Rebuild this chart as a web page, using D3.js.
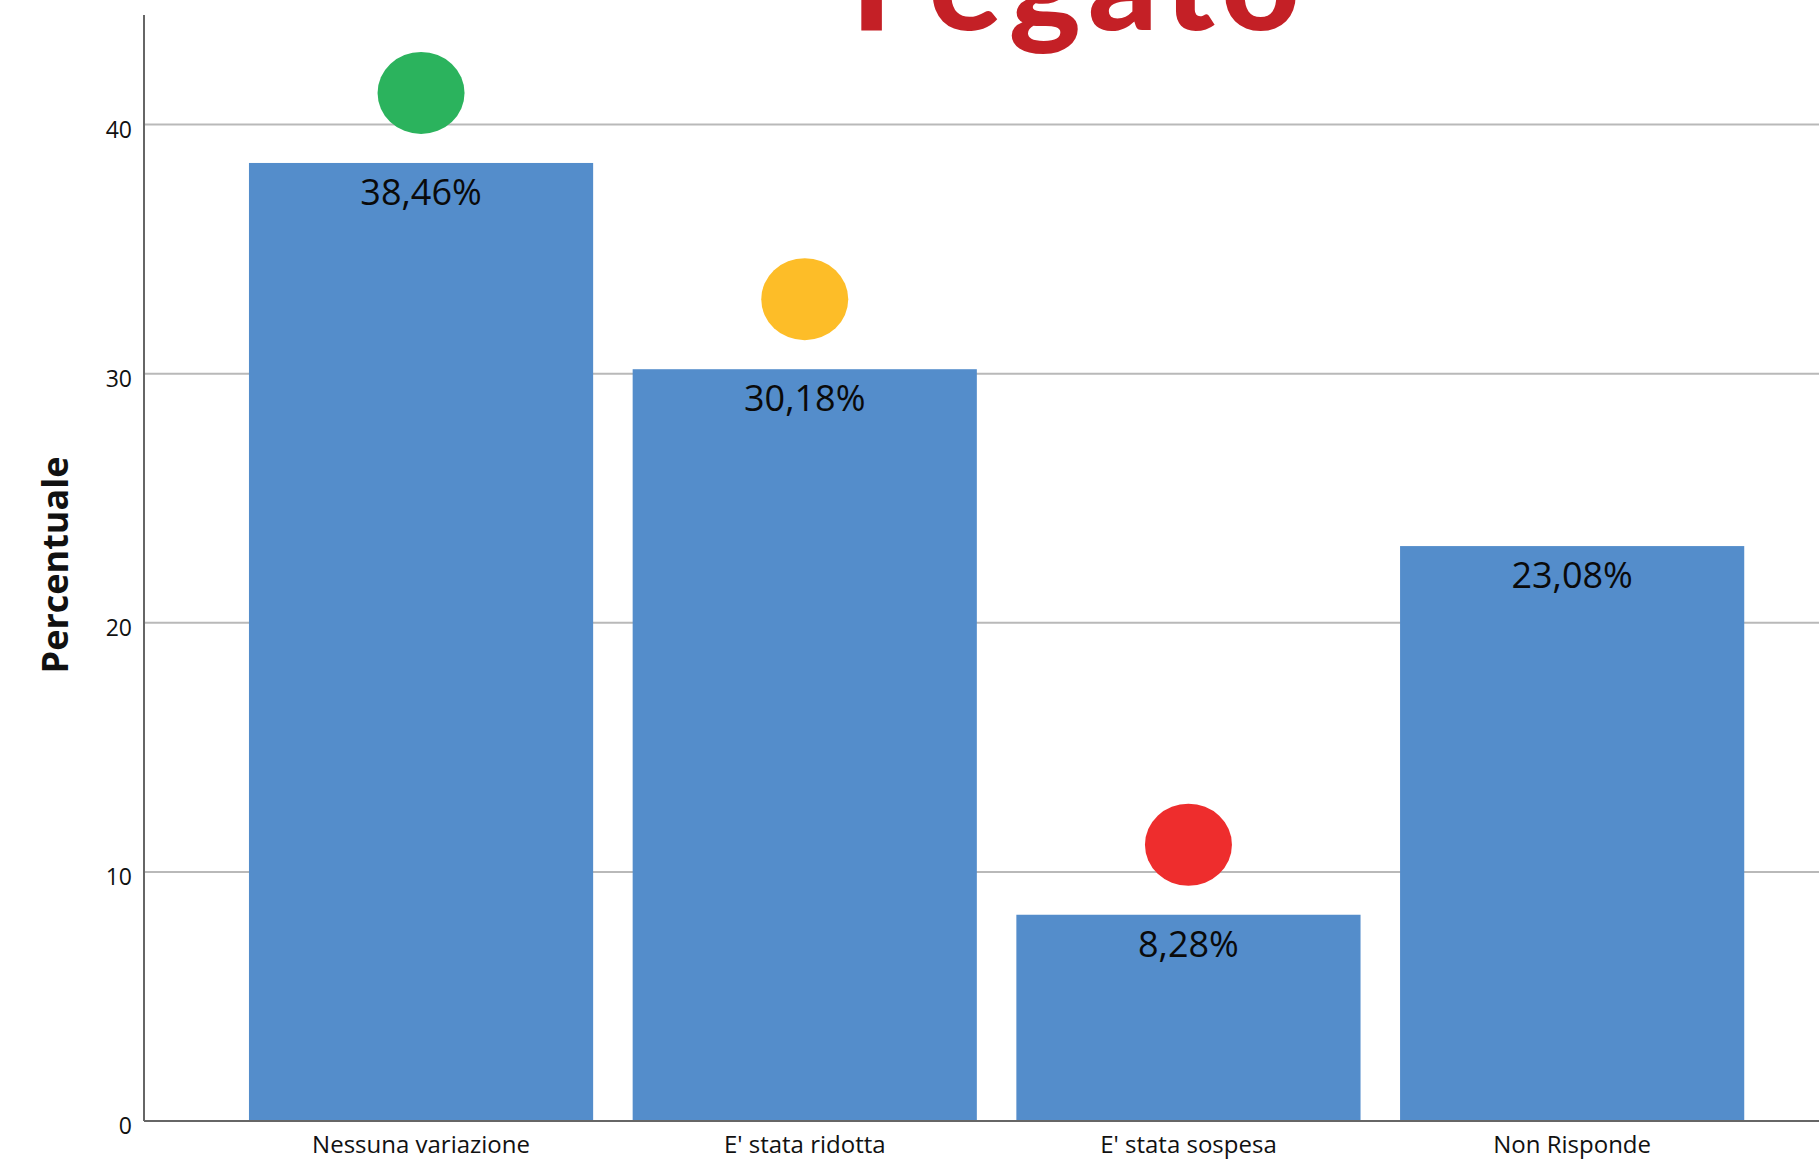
<!DOCTYPE html>
<html>
<head>
<meta charset="utf-8">
<script src="https://cdn.jsdelivr.net/npm/d3@7"></script>
<style>
  html, body { margin: 0; padding: 0; background: #fff; }
  svg { display: block; }
</style>
</head>
<body>
<div id="chart"></div>
<script>
// Risposte alla domanda sul fegato (percentuali)
const categories = ["Nessuna variazione", "E' stata ridotta", "E' stata sospesa", "Non Risponde"];
const values = [38.46, 30.18, 8.28, 23.08];
const valueLabels = ["38,46%", "30,18%", "8,28%", "23,08%"];
const yTicks = [0, 10, 20, 30, 40];
// Semaforo sopra le prime tre barre
const dotCategories = ["Nessuna variazione", "E' stata ridotta", "E' stata sospesa"];
const dotColors = ["#2bb35d", "#fdbd28", "#ee2d2d"];
const title = "Fegato";
const yTitle = "Percentuale";

const W = 1819, H = 1165;
const axisX = 144, baseY = 1121, topY = 15;

const svg = d3.select("#chart").append("svg")
  .attr("width", W).attr("height", H);

const y = d3.scaleLinear().domain([0, 44.4]).range([baseY, topY]);

const x = d3.scaleBand()
  .domain(categories)
  .range([229.2, 1764])
  .paddingInner(0.103)
  .paddingOuter(0.0515);

// Griglia orizzontale
svg.append("g")
  .selectAll("line")
  .data(yTicks.filter(d => d > 0))
  .join("line")
  .attr("x1", axisX).attr("x2", W)
  .attr("y1", d => y(d)).attr("y2", d => y(d))
  .attr("stroke", "#b9b9b9")
  .attr("stroke-width", 2);

// Barre
svg.append("g")
  .selectAll("rect")
  .data(values)
  .join("rect")
  .attr("x", (d, i) => x(categories[i]))
  .attr("y", d => y(d))
  .attr("width", x.bandwidth())
  .attr("height", d => y(0) - y(d))
  .attr("fill", "#548dcb");

// Etichette dei valori dentro le barre
svg.append("g")
  .selectAll("text")
  .data(values)
  .join("text")
  .attr("x", (d, i) => x(categories[i]) + x.bandwidth() / 2)
  .attr("y", d => y(d) + 42)
  .attr("text-anchor", "middle")
  .attr("font-family", "'Open Sans', sans-serif")
  .attr("font-size", 36)
  .attr("font-weight", 500)
  .attr("fill", "#0a0a0a")
  .text((d, i) => valueLabels[i]);

// Asse Y
const yAxis = d3.axisLeft(y).tickValues(yTicks).tickSize(0).tickPadding(12);
const gy = svg.append("g")
  .attr("transform", `translate(${axisX},0)`)
  .call(yAxis);
gy.select(".domain").remove();
gy.selectAll("text")
  .attr("dy", "0.55em")
  .attr("font-family", "'Open Sans', sans-serif")
  .attr("font-size", 23)
  .attr("font-weight", 500)
  .attr("fill", "#111");
svg.append("line")
  .attr("x1", axisX).attr("x2", axisX)
  .attr("y1", topY).attr("y2", baseY)
  .attr("stroke", "#666").attr("stroke-width", 2);

// Asse X
const xAxis = d3.axisBottom(x).tickSize(0).tickPadding(15);
const gx = svg.append("g")
  .attr("transform", `translate(0,${baseY})`)
  .call(xAxis);
gx.select(".domain").remove();
gx.selectAll("text")
  .attr("font-family", "'Open Sans', sans-serif")
  .attr("font-size", 24)
  .attr("font-weight", 500)
  .attr("fill", "#111");
svg.append("line")
  .attr("x1", axisX).attr("x2", W)
  .attr("y1", baseY).attr("y2", baseY)
  .attr("stroke", "#666").attr("stroke-width", 2);

// Titolo asse Y
svg.append("text")
  .attr("transform", `translate(68,565) rotate(-90)`)
  .attr("text-anchor", "middle")
  .attr("font-family", "'Open Sans', sans-serif")
  .attr("font-weight", 700)
  .attr("font-size", 36)
  .attr("fill", "#111")
  .text(yTitle);

// Pallini colorati
svg.append("g")
  .selectAll("ellipse")
  .data(dotCategories)
  .join("ellipse")
  .attr("cx", d => x(d) + x.bandwidth() / 2)
  .attr("cy", d => y(values[categories.indexOf(d)]) - 70)
  .attr("rx", 43.5)
  .attr("ry", 41)
  .attr("fill", (d, i) => dotColors[i]);

// Titolo
svg.append("text")
  .attr("x", 1079)
  .attr("y", 30)
  .attr("text-anchor", "middle")
  .attr("font-family", "Lato, sans-serif")
  .attr("font-weight", 900)
  .attr("font-size", 136)
  .attr("letter-spacing", 7)
  .attr("fill", "#c42026")
  .text(title);
</script>
</body>
</html>
